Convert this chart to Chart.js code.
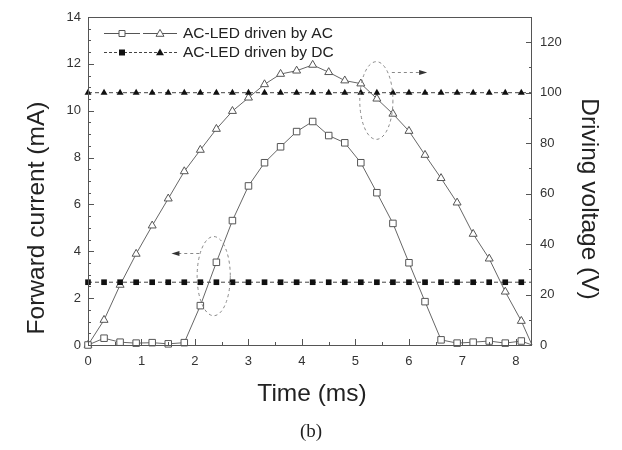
<!DOCTYPE html>
<html>
<head>
<meta charset="utf-8">
<script src="https://cdn.jsdelivr.net/npm/chart.js@4.4.0/dist/chart.umd.min.js"></script>
<style>
  html, body { margin: 0; padding: 0; background: #fff; }
  #chart { display: block; }
</style>
</head>
<body>
<canvas id="chart" width="622" height="450"></canvas>
<script>
const timeMs = [0, 0.3, 0.6, 0.9, 1.2, 1.5, 1.8, 2.1, 2.4, 2.7, 3.0, 3.3, 3.6, 3.9, 4.2,
  4.5, 4.8, 5.1, 5.4, 5.7, 6.0, 6.3, 6.6, 6.9, 7.2, 7.5, 7.8, 8.1, 8.3];

const acCurrent = [0, 0.29, 0.12, 0.08, 0.1, 0.05, 0.1, 1.68, 3.53, 5.31, 6.79, 7.78, 8.46, 9.11, 9.54,
  8.94, 8.63, 7.78, 6.5, 5.19, 3.51, 1.85, 0.22, 0.08, 0.12, 0.17, 0.08, 0.17, 0];
const acVoltage = [0, 9.9, 23.8, 36.1, 47.3, 58, 68.8, 77.3, 85.6, 92.7, 98, 103.3, 107.4, 108.7, 111,
  108.1, 104.8, 103.6, 97.6, 91.6, 84.8, 75.3, 66.1, 56.4, 44, 34.2, 21.1, 9.5, 0];
const dcCurrent = [2.68, 2.68, 2.68, 2.68, 2.68, 2.68, 2.68, 2.68, 2.68, 2.68, 2.68, 2.68, 2.68, 2.68, 2.68,
  2.68, 2.68, 2.68, 2.68, 2.68, 2.68, 2.68, 2.68, 2.68, 2.68, 2.68, 2.68, 2.68, 2.68];
const dcVoltage = [100, 100, 100, 100, 100, 100, 100, 100, 100, 100, 100, 100, 100, 100, 100,
  100, 100, 100, 100, 100, 100, 100, 100, 100, 100, 100, 100, 100, 100];

const legendLabels = ["AC-LED driven by AC", "AC-LED driven by DC"];
const xTitle = "Time (ms)";
const yTitle = "Forward current (mA)";
const y2Title = "Driving voltage (V)";
const caption = "(b)";

// dashed ellipses with arrows: [time, value, halfWidth (ms), halfHeight, axis]
const ellipseCurrent = [2.35, 2.94, 0.31, 1.69];
const arrowCurrent = [2.08, 1.56, 3.94];
const ellipseVoltage = [5.39, 96.9, 0.31, 15.4];
const arrowVoltage = [5.68, 6.34, 108.1];

const FONT = 'Arial, "Liberation Sans", sans-serif';
const last = timeMs.length - 1;
const radii = (r) => timeMs.map((_, i) => (i === last ? 0 : r));
const toXY = (vals) => timeMs.map((t, i) => ({ x: t, y: vals[i] }));

function markSquare(ctx, x, y, s, filled) {
  ctx.beginPath();
  ctx.rect(x - s / 2, y - s / 2, s, s);
  if (filled) ctx.fill(); else { ctx.fillStyle = "#fff"; ctx.fill(); ctx.stroke(); }
}
function markTriangle(ctx, x, y, r, filled) {
  ctx.beginPath();
  ctx.moveTo(x, y - r);
  ctx.lineTo(x + r * 0.866, y + r * 0.5);
  ctx.lineTo(x - r * 0.866, y + r * 0.5);
  ctx.closePath();
  if (filled) ctx.fill(); else { ctx.fillStyle = "#fff"; ctx.fill(); ctx.stroke(); }
}

const decorations = {
  id: "decorations",
  afterDraw(chart) {
    const ctx = chart.ctx;
    const a = chart.chartArea;
    const xs = chart.scales.x, ys = chart.scales.y, y2s = chart.scales.y2;
    ctx.save();

    // frame
    ctx.strokeStyle = "#555";
    ctx.lineWidth = 1;
    ctx.strokeRect(a.left + 0.5, a.top + 0.5, a.right - a.left - 1, a.bottom - a.top);

    // inward ticks
    ctx.beginPath();
    for (let v = 0; v <= 8.3 + 1e-9; v += 0.5) {
      const px = Math.round(xs.getPixelForValue(v)) + 0.5;
      const len = Math.abs(v - Math.round(v)) < 1e-6 ? 6 : 3;
      ctx.moveTo(px, a.bottom); ctx.lineTo(px, a.bottom - len);
    }
    for (let v = 0; v <= 14 + 1e-9; v += 0.5) {
      const py = Math.round(ys.getPixelForValue(v)) + 0.5;
      const len = Math.abs(v / 2 - Math.round(v / 2)) < 1e-6 ? 6 : 3;
      ctx.moveTo(a.left, py); ctx.lineTo(a.left + len, py);
    }
    for (let v = 0; v <= 130; v += 10) {
      const py = Math.round(y2s.getPixelForValue(v)) + 0.5;
      const len = v % 20 === 0 ? 6 : 3;
      ctx.moveTo(a.right, py); ctx.lineTo(a.right - len, py);
    }
    ctx.stroke();

    // ellipses and arrows
    ctx.strokeStyle = "#888";
    ctx.setLineDash([3, 3]);
    const drawEllipse = (e, scale) => {
      const cx = xs.getPixelForValue(e[0]);
      const cy = scale.getPixelForValue(e[1]);
      const rx = xs.getPixelForValue(e[0] + e[2]) - cx;
      const ry = cy - scale.getPixelForValue(e[1] + e[3]);
      ctx.beginPath();
      ctx.ellipse(cx, cy, rx, ry, 0, 0, Math.PI * 2);
      ctx.stroke();
    };
    drawEllipse(ellipseCurrent, ys);
    drawEllipse(ellipseVoltage, y2s);
    const drawArrow = (ar, scale) => {
      const x1 = xs.getPixelForValue(ar[0]);
      const x2 = xs.getPixelForValue(ar[1]);
      const py = Math.round(scale.getPixelForValue(ar[2])) + 0.5;
      const dir = Math.sign(x2 - x1);
      ctx.setLineDash([3, 3]);
      ctx.beginPath();
      ctx.moveTo(x1, py); ctx.lineTo(x2 - dir * 6, py);
      ctx.stroke();
      ctx.setLineDash([]);
      ctx.fillStyle = "#333";
      ctx.beginPath();
      ctx.moveTo(x2, py); ctx.lineTo(x2 - dir * 8, py - 2.5); ctx.lineTo(x2 - dir * 8, py + 2.5);
      ctx.closePath();
      ctx.fill();
    };
    drawArrow(arrowCurrent, ys);
    drawArrow(arrowVoltage, y2s);
    ctx.setLineDash([]);

    // legend
    const lx = a.left + 16;
    const rows = [a.top + 16, a.top + 35];
    ctx.strokeStyle = "#555";
    ctx.beginPath();
    ctx.moveTo(lx, rows[0] + 0.5); ctx.lineTo(lx + 36, rows[0] + 0.5);
    ctx.moveTo(lx + 39, rows[0] + 0.5); ctx.lineTo(lx + 73, rows[0] + 0.5);
    ctx.stroke();
    markSquare(ctx, lx + 18, rows[0] + 0.5, 6, false);
    ctx.strokeStyle = "#555";
    markTriangle(ctx, lx + 56, rows[0] + 1, 4.6, false);
    ctx.strokeStyle = "#444";
    ctx.setLineDash([3, 2]);
    ctx.beginPath();
    ctx.moveTo(lx, rows[1] + 0.5); ctx.lineTo(lx + 73, rows[1] + 0.5);
    ctx.stroke();
    ctx.setLineDash([]);
    ctx.fillStyle = "#111";
    markSquare(ctx, lx + 18, rows[1] + 0.5, 6, true);
    markTriangle(ctx, lx + 56, rows[1] + 1, 4.6, true);
    ctx.fillStyle = "#222";
    ctx.font = "15.5px " + FONT;
    ctx.textAlign = "left";
    ctx.textBaseline = "middle";
    ctx.fillText(legendLabels[0], lx + 79, rows[0] + 1);
    ctx.fillText(legendLabels[1], lx + 79, rows[1] + 1);

    // axis titles
    ctx.fillStyle = "#222";
    ctx.font = "24.5px " + FONT;
    ctx.textAlign = "center";
    ctx.textBaseline = "middle";
    ctx.fillText(xTitle, 312, 394);
    ctx.save();
    ctx.translate(37, 218);
    ctx.rotate(-Math.PI / 2);
    ctx.fillText(yTitle, 0, 0);
    ctx.restore();
    ctx.save();
    ctx.translate(589, 199);
    ctx.rotate(Math.PI / 2);
    ctx.fillText(y2Title, 0, 0);
    ctx.restore();

    ctx.font = '19px "Liberation Serif", "Times New Roman", serif';
    ctx.fillText(caption, 311, 432);
    ctx.restore();
  },
};

const tickFont = { family: FONT, size: 13 };

new Chart(document.getElementById("chart"), {
  type: "line",
  plugins: [decorations],
  data: {
    datasets: [
      {
        data: toXY(dcCurrent), yAxisID: "y",
        borderColor: "#444", borderWidth: 1, borderDash: [4, 3],
        pointStyle: "rect", pointRadius: radii(4), pointBackgroundColor: "#111",
        pointBorderColor: "#111", pointBorderWidth: 0, clip: 8,
      },
      {
        data: toXY(dcVoltage), yAxisID: "y2",
        borderColor: "#444", borderWidth: 1, borderDash: [4, 3],
        pointStyle: "triangle", pointRadius: radii(4), pointBackgroundColor: "#111",
        pointBorderColor: "#111", pointBorderWidth: 0, clip: 8,
      },
      {
        data: toXY(acCurrent), yAxisID: "y",
        borderColor: "#666", borderWidth: 1,
        pointStyle: "rect", pointRadius: radii(4.6), pointBackgroundColor: "#fff",
        pointBorderColor: "#555", pointBorderWidth: 1, clip: 8,
      },
      {
        data: toXY(acVoltage), yAxisID: "y2",
        borderColor: "#666", borderWidth: 1,
        pointStyle: "triangle", pointRadius: radii(4.6), pointBackgroundColor: "#fff",
        pointBorderColor: "#555", pointBorderWidth: 1, clip: 8,
      },
    ],
  },
  options: {
    responsive: false,
    animation: false,
    devicePixelRatio: 1,
    layout: { padding: { top: 17, left: 0, right: 0, bottom: 0 } },
    plugins: { legend: { display: false }, tooltip: { enabled: false } },
    scales: {
      x: {
        type: "linear", min: 0, max: 8.3,
        grid: { display: false, drawTicks: false }, border: { display: false },
        ticks: { stepSize: 1, includeBounds: false, font: tickFont, color: "#333", padding: 9, maxRotation: 0 },
        afterFit: (s) => { s.height = 105; },
      },
      y: {
        position: "left", min: 0, max: 14,
        grid: { display: false, drawTicks: false }, border: { display: false },
        ticks: { stepSize: 2, font: tickFont, color: "#333", padding: 7 },
        afterFit: (s) => { s.width = 88; },
      },
      y2: {
        position: "right", min: 0, max: 130,
        grid: { display: false, drawTicks: false }, border: { display: false },
        ticks: { stepSize: 20, includeBounds: false, font: tickFont, color: "#333", padding: 8 },
        afterFit: (s) => { s.width = 90; },
      },
    },
  },
});
</script>
</body>
</html>
